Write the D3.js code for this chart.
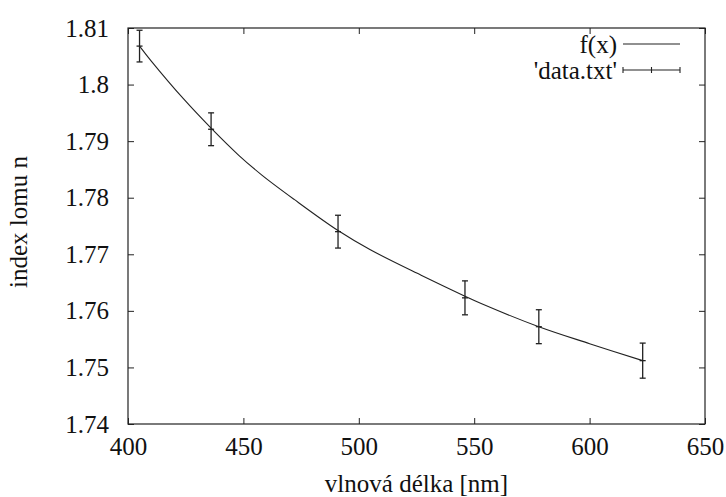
<!DOCTYPE html>
<html>
<head>
<meta charset="utf-8">
<script src="https://cdn.jsdelivr.net/npm/d3@7"></script>
<style>
  body { margin: 0; background: #fff; }
</style>
</head>
<body>
<svg id="chart"></svg>
<script>
// measured points (wavelength in nm, refractive index, error)
const wavelengths = [405, 436, 491, 546, 578, 623];
const indices = [1.8068, 1.7921, 1.7740, 1.7623, 1.7572, 1.7512];
const errors = [0.0028, 0.0029, 0.0029, 0.003, 0.003, 0.0031];

// fitted curve f(x)
const fitX = [405, 410, 424, 436, 448, 458, 472, 491, 505, 527, 546, 553, 578, 600, 623];
const fitY = [1.8068, 1.8042, 1.7975, 1.7923, 1.7875, 1.7840, 1.7797, 1.7742, 1.7708, 1.7663, 1.7626, 1.7613, 1.7572, 1.7542, 1.7512];

const xTicks = [400, 450, 500, 550, 600, 650];
const yTicks = [1.74, 1.75, 1.76, 1.77, 1.78, 1.79, 1.8, 1.81];

const width = 726, height = 497;
const margin = { top: 28, right: 21, bottom: 73, left: 128 };
const w = width - margin.left - margin.right;
const h = height - margin.top - margin.bottom;

const serif = "'Liberation Serif'";
const fontSize = 25;
const tickLen = 6;

const svg = d3.select("#chart")
    .attr("width", width)
    .attr("height", height);

const g = svg.append("g")
    .attr("transform", "translate(" + margin.left + "," + margin.top + ")");

const x = d3.scaleLinear().domain([400, 650]).range([0, w]);
const y = d3.scaleLinear().domain([1.74, 1.81]).range([h, 0]);

// axes (gnuplot style: inward ticks, mirrored)
g.append("g")
    .attr("transform", "translate(0," + h + ")")
    .call(d3.axisBottom(x).tickValues(xTicks).tickSizeInner(-tickLen).tickSizeOuter(0).tickPadding(13).tickFormat(d3.format("d")));
g.append("g")
    .call(d3.axisLeft(y).tickValues(yTicks).tickSizeInner(-tickLen).tickSizeOuter(0).tickPadding(19).tickFormat(d => String(+d.toFixed(2))));
g.append("g")
    .call(d3.axisTop(x).tickValues(xTicks).tickSizeInner(-tickLen).tickSizeOuter(0).tickFormat(""));
g.append("g")
    .attr("transform", "translate(" + w + ",0)")
    .call(d3.axisRight(y).tickValues(yTicks).tickSizeInner(-tickLen).tickSizeOuter(0).tickFormat(""));

g.selectAll(".domain").remove();
g.selectAll(".tick line").attr("stroke", "#222");
g.selectAll(".tick text")
    .style("font-family", serif)
    .style("font-size", fontSize + "px")
    .attr("fill", "#111");

// frame
g.append("rect")
    .attr("width", w)
    .attr("height", h)
    .attr("fill", "none")
    .attr("stroke", "#222")
    .attr("stroke-width", 1.2);

// fitted curve
const fitData = fitX.map((d, i) => ({ x: d, y: fitY[i] }));
g.append("path")
    .datum(fitData)
    .attr("fill", "none")
    .attr("stroke", "#222")
    .attr("stroke-width", 1.1)
    .attr("d", d3.line().x(d => x(d.x)).y(d => y(d.y)).curve(d3.curveCatmullRom.alpha(0.5)));

// error bars
const pts = wavelengths.map((d, i) => ({ x: d, y: indices[i], e: errors[i] }));
const cap = 3;
const bars = g.selectAll(".err").data(pts).enter().append("g")
    .attr("stroke", "#222")
    .attr("stroke-width", 1.3);
bars.append("line")
    .attr("x1", d => x(d.x)).attr("x2", d => x(d.x))
    .attr("y1", d => y(d.y - d.e)).attr("y2", d => y(d.y + d.e));
bars.append("line")
    .attr("x1", d => x(d.x) - cap).attr("x2", d => x(d.x) + cap)
    .attr("y1", d => y(d.y - d.e)).attr("y2", d => y(d.y - d.e));
bars.append("line")
    .attr("x1", d => x(d.x) - cap).attr("x2", d => x(d.x) + cap)
    .attr("y1", d => y(d.y + d.e)).attr("y2", d => y(d.y + d.e));
bars.append("line")
    .attr("x1", d => x(d.x) - cap).attr("x2", d => x(d.x) + cap)
    .attr("y1", d => y(d.y)).attr("y2", d => y(d.y));

// legend
const legend = g.append("g").attr("transform", "translate(" + (w - 82) + ",0)");
legend.append("text")
    .attr("x", -6).attr("y", 16)
    .attr("dy", "0.35em")
    .attr("text-anchor", "end")
    .style("font-family", serif)
    .style("font-size", fontSize + "px")
    .attr("fill", "#111")
    .text("f(x)");
legend.append("line")
    .attr("x1", 0).attr("x2", 57)
    .attr("y1", 16).attr("y2", 16)
    .attr("stroke", "#222").attr("stroke-width", 1.1);
legend.append("text")
    .attr("x", -6).attr("y", 42)
    .attr("dy", "0.35em")
    .attr("text-anchor", "end")
    .style("font-family", serif)
    .style("font-size", fontSize + "px")
    .attr("fill", "#111")
    .text("'data.txt'");
const leg2 = legend.append("g").attr("stroke", "#222").attr("stroke-width", 1.1);
leg2.append("line").attr("x1", 0).attr("x2", 57).attr("y1", 42).attr("y2", 42);
[0, 28.5, 57].forEach(px => {
    leg2.append("line").attr("x1", px).attr("x2", px).attr("y1", 39).attr("y2", 45);
});

// axis labels
svg.append("text")
    .attr("x", margin.left + w / 2)
    .attr("y", 492)
    .attr("text-anchor", "middle")
    .style("font-family", serif)
    .style("font-size", fontSize + "px")
    .attr("fill", "#111")
    .text("vlnová délka [nm]");

svg.append("text")
    .attr("transform", "rotate(-90)")
    .attr("x", -(margin.top + h / 2) + 4)
    .attr("y", 27)
    .attr("text-anchor", "middle")
    .style("font-family", serif)
    .style("font-size", fontSize + "px")
    .attr("fill", "#111")
    .text("index lomu n");
</script>
</body>
</html>
